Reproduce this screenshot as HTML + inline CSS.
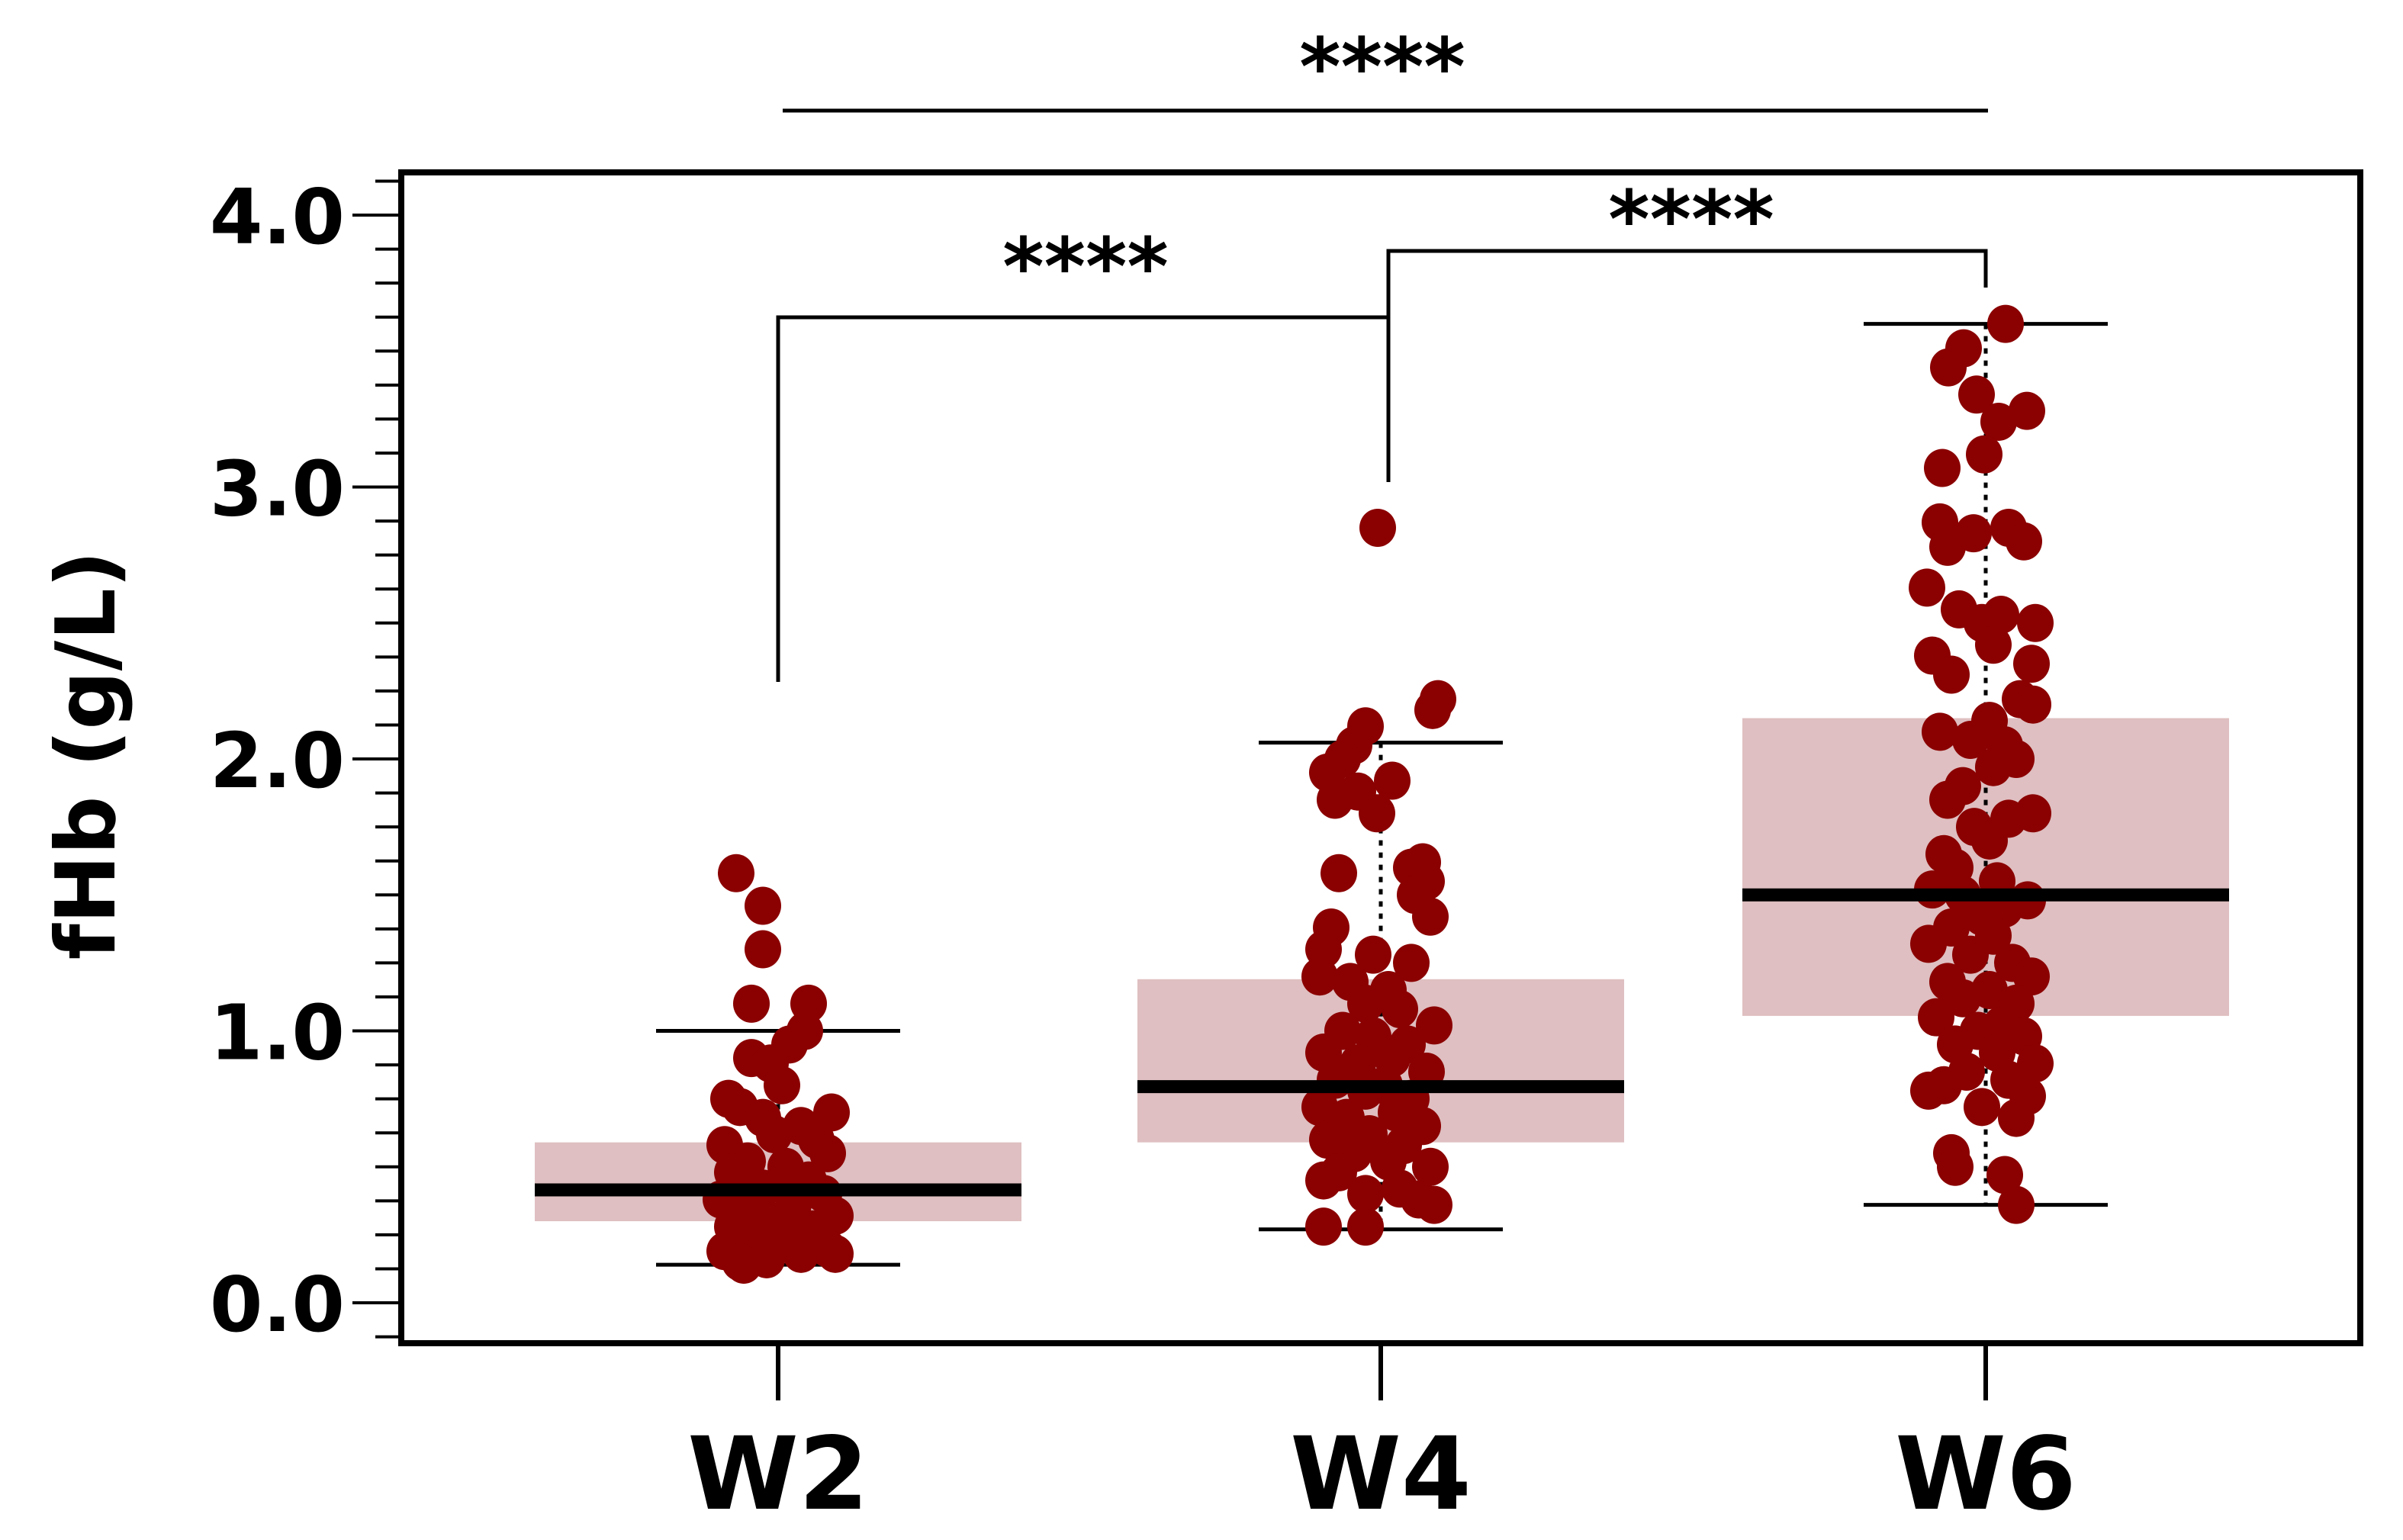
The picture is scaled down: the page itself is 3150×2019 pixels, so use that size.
<!DOCTYPE html>
<html><head><meta charset="utf-8"><style>
html,body{margin:0;padding:0;background:#fff;}
svg{display:block;}
text{font-family:"DejaVu Sans","Liberation Sans",sans-serif;font-weight:bold;fill:#000;}
</style></head><body>
<svg id="chart" width="3150" height="2019" viewBox="0 0 3150 2019" xmlns="http://www.w3.org/2000/svg">
<rect width="3150" height="2019" fill="#fff"/>
<g id="boxes"></g>
<g id="whiskers"></g>
<g id="points"></g>
<g id="medians"></g>
<g id="axis"></g>
<g id="brackets"></g>
<rect x="526" y="226" width="2568" height="1535" fill="none" stroke="#000" stroke-width="8"/>
<text x="0" y="0" transform="translate(150,990) rotate(-90)" text-anchor="middle" font-size="108">fHb (g/L)</text>
</svg>
<script>
const categories = ["W2","W4","W6"];
const q1 = [0.30, 0.59, 1.055];
const medians = [0.415, 0.795, 1.50];
const q3 = [0.59, 1.19, 2.15];
const whiskerLow = [0.14, 0.27, 0.36];
const whiskerHigh = [1.00, 2.06, 3.60];
const yTicks = [0, 1, 2, 3, 4];
const yTickLabels = ["0.0","1.0","2.0","3.0","4.0"];
const w2Values = [1.58,1.46,1.30,1.10,1.10,1.00,0.95,0.90,0.88,0.80,0.75,0.72,0.70,0.68,0.65,0.62,0.60,0.58,0.55,0.52,0.50,0.48,0.45,0.42,0.40,0.38,0.36,0.35,0.32,0.30,0.28,0.27,0.25,0.22,0.20,0.19,0.18,0.16,0.15,0.18,0.14];
const w2Jitter = [-55,-20,-20,-35,40,35,15,-35,-10,5,-65,-50,70,-20,30,-5,50,-70,65,-40,10,-60,40,-20,60,-75,20,-45,75,-10,-60,45,10,-30,65,-70,30,-15,-50,75,-45];
const w4Values = [2.85,2.22,2.18,2.12,2.05,2.00,1.95,1.92,1.88,1.85,1.80,1.62,1.60,1.58,1.55,1.50,1.42,1.38,1.30,1.28,1.25,1.20,1.18,1.15,1.10,1.08,1.02,1.00,0.98,0.95,0.92,0.90,0.88,0.85,0.82,0.80,0.78,0.75,0.72,0.70,0.68,0.65,0.62,0.60,0.58,0.55,0.52,0.50,0.48,0.45,0.42,0.40,0.38,0.36,0.28,0.28];
const w4Jitter = [-4,75,68,-20,-35,-50,-70,15,-30,-60,-5,55,40,-55,60,45,65,-65,-75,-10,40,-80,-40,10,-20,25,70,-50,-10,35,-75,15,-30,60,-60,5,-20,40,-80,20,-45,55,-15,-70,30,-35,10,65,-55,-75,25,-20,50,70,-75,-20];
const w6Values = [3.60,3.51,3.44,3.34,3.28,3.24,3.12,3.07,2.87,2.85,2.83,2.80,2.78,2.63,2.55,2.50,2.53,2.50,2.42,2.38,2.35,2.31,2.22,2.20,2.14,2.10,2.07,2.05,2.00,1.97,1.90,1.85,1.80,1.78,1.75,1.70,1.65,1.60,1.55,1.52,1.50,1.48,1.45,1.42,1.38,1.35,1.32,1.28,1.25,1.20,1.18,1.15,1.12,1.10,1.05,1.02,1.00,0.98,0.95,0.92,0.88,0.85,0.82,0.80,0.78,0.76,0.72,0.68,0.55,0.50,0.47,0.36];
const w6Jitter = [26,-29,-49,-12,54,17,-2,-57,-60,30,-16,50,-50,-77,-35,-5,20,65,10,-70,60,-45,45,62,5,-60,-20,25,40,10,-30,-50,62,30,-15,5,-55,-40,15,-70,-30,55,25,-5,-45,10,-75,-20,35,60,-50,5,-30,40,-65,20,-10,50,-40,15,65,-25,30,-55,-75,55,-5,40,-45,-40,25,40];
const pointValues = [w2Values, w4Values, w6Values];
const pointJitter = [w2Jitter, w4Jitter, w6Jitter];

const NS = "http://www.w3.org/2000/svg";
const xCenters = [1020, 1810, 2603];
function xScale(i){ return xCenters[i]; }
function yScale(v){ return 1708 - v * 356.5; }
function mk(tag, attrs, parent){
  const e = document.createElementNS(NS, tag);
  for (const k in attrs) e.setAttribute(k, attrs[k]);
  parent.appendChild(e); return e;
}
const gB = document.getElementById('boxes'), gW = document.getElementById('whiskers'),
      gP = document.getElementById('points'), gM = document.getElementById('medians'),
      gA = document.getElementById('axis'), gS = document.getElementById('brackets'),
      svg = document.getElementById('chart');
const boxHalf = 319, capHalf = 160;
categories.forEach((c, i) => {
  const cx = xScale(i);
  const box = mk('rect', {x: cx - boxHalf, y: yScale(q3[i]), width: 2 * boxHalf, height: yScale(q1[i]) - yScale(q3[i]), fill: '#dfbfc1'}, gB);
  
  
  const dl = mk('line', {x1: cx, x2: cx, y1: yScale(whiskerHigh[i]), y2: yScale(whiskerLow[i]), stroke: '#000', 'stroke-width': 5, 'stroke-dasharray': '7 9'}, gW);
  
  
  [whiskerHigh[i], whiskerLow[i]].forEach((v, j) => {
    const cap = mk('line', {x1: cx - capHalf, x2: cx + capHalf, y1: yScale(v), y2: yScale(v), stroke: '#000', 'stroke-width': 5}, gW);
    
    
  });
  pointValues[i].forEach((v, k) => {
    const p = mk('ellipse', {cx: cx + pointJitter[i][k], cy: yScale(v), rx: 24, ry: 25, fill: '#8b0000'}, gP);
    
    
  });
  const md = mk('line', {x1: cx - boxHalf, x2: cx + boxHalf, y1: yScale(medians[i]), y2: yScale(medians[i]), stroke: '#000', 'stroke-width': 17}, gM);
  
  
  const xt = mk('line', {x1: cx, x2: cx, y1: 1761, y2: 1836, stroke: '#000', 'stroke-width': 6}, gA);
  
  
  const xl = mk('text', {x: cx, y: 1978, 'text-anchor': 'middle', 'font-size': 132}, svg);
  xl.textContent = c;
  
  
});
for (let k = -1; k <= 33; k++) {
  const v = k * 0.125;
  const major = k % 8 === 0 && k >= 0;
  const t = mk('line', {x1: major ? 462 : 492, x2: 524, y1: yScale(v), y2: yScale(v), stroke: '#000', 'stroke-width': 4}, gA);
  
  
}
yTicks.forEach((v, i) => {
  const t = mk('text', {x: 452, y: yScale(v) + 37, 'text-anchor': 'end', 'font-size': 100}, gA);
  t.textContent = yTickLabels[i];
  
  
});
function path(d, name){
  const p = mk('path', {d: d, fill: 'none', stroke: '#000', 'stroke-width': 5}, gS);
  
  
}
function stars(x, y, name){
  const t = mk('text', {x: x, y: y, 'text-anchor': 'middle', 'font-size': 104}, gS);
  t.textContent = '****';
  
  
}
path('M1026 145 H2606', 'bracket-w2-w6');
stars(1812, 124, 'significance-w2-w6');
path('M1020 894 V416 H1820 V632', 'bracket-w2-w4');
stars(1423, 386, 'significance-w2-w4');
path('M1820 416 V329 H2603 V377', 'bracket-w4-w6');
stars(2217, 324, 'significance-w4-w6');
</script>
</body></html>
